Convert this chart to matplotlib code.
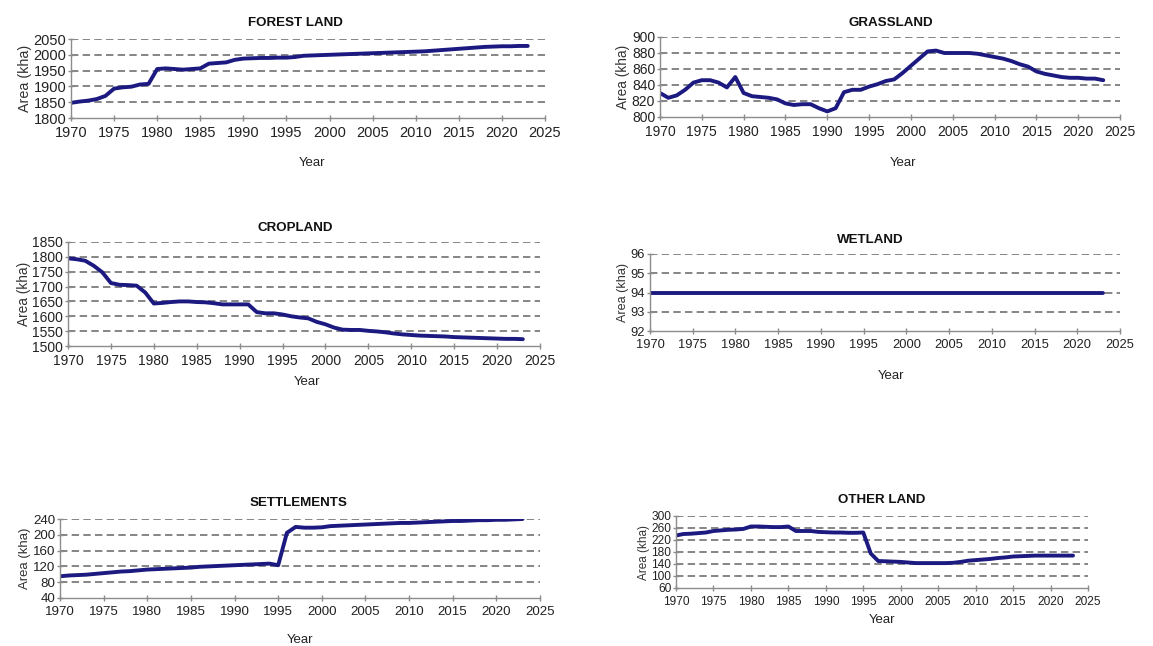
import numpy as np
import matplotlib.pyplot as plt

plt.rcParams['font.family'] = ['Liberation Sans', 'DejaVu Sans']

years = np.arange(1970, 2024)

forest = [1848, 1852, 1855, 1860, 1870, 1893, 1897, 1899, 1906, 1908,
          1955, 1957, 1955, 1953, 1955, 1957, 1972, 1974, 1976, 1984,
          1988, 1989, 1990, 1990, 1991, 1991, 1993, 1997, 1998, 1999,
          2000, 2001, 2002, 2003, 2004, 2005, 2006, 2007, 2008, 2009,
          2010, 2011, 2013, 2015, 2017, 2019, 2021, 2023, 2025, 2026,
          2027, 2027, 2028, 2028]

grassland = [830, 824, 827, 834, 843, 846, 846, 843, 837, 850,
             830, 826, 825, 824, 822, 817, 815, 816, 816, 811,
             807, 811, 831, 834, 834, 838, 841, 845, 847, 855,
             864, 873, 882, 883, 880, 880, 880, 880, 879, 877,
             875, 873, 870, 866, 863, 857, 854, 852, 850, 849,
             849, 848, 848, 846]

cropland = [1795, 1792, 1787, 1770, 1748, 1712, 1706, 1705, 1703, 1680,
            1643, 1645, 1648, 1650, 1650, 1648, 1647, 1644, 1640, 1640,
            1640, 1640, 1614, 1610, 1610, 1606, 1600, 1596, 1593, 1581,
            1573, 1562, 1555, 1554, 1554, 1551, 1549, 1546, 1542, 1539,
            1537, 1535, 1534, 1533, 1532, 1530, 1529, 1528, 1527, 1526,
            1525, 1524, 1524, 1523]

wetland = [94] * 54

settlements = [95, 97, 98, 99, 101, 103, 105, 107, 108, 110,
               112, 113, 114, 115, 116, 117, 119, 120, 121, 122,
               123, 124, 125, 126, 127, 123, 205, 220, 218, 218,
               219, 222, 223, 224, 225, 226, 227, 228, 229, 230,
               230, 231, 232, 233, 234, 235, 235, 236, 237, 237,
               238, 238, 239, 240]

other_land = [235, 240, 241, 243, 245, 250, 252, 254, 255, 257,
              265, 265, 264, 263, 263, 265, 250, 250, 250, 247,
              246, 245, 245, 244, 244, 245, 175, 150, 149, 148,
              147, 145, 143, 143, 143, 143, 143, 144, 147, 151,
              153, 155, 157, 160, 162, 165, 166, 167, 168, 168,
              168, 168, 168, 168]

# title, data, y-ticks, axes box in px (left, top, right, bottom),
# title (x, y) in px, "Year" (x, y) in px, tick font size
panels = [
    ("FOREST LAND", forest, np.arange(1800, 2051, 50), (71, 39, 545, 118),
     (295, 23), (312, 163), 10.5),
    ("GRASSLAND", grassland, np.arange(800, 901, 20), (660, 37, 1120, 117),
     (891, 23), (903, 163), 10),
    ("CROPLAND", cropland, np.arange(1500, 1851, 50), (68, 242, 540, 346),
     (295, 228), (307, 382), 10),
    ("WETLAND", wetland, np.arange(92, 97, 1), (650, 254, 1120, 331),
     (870, 240), (891, 376), 9.3),
    ("SETTLEMENTS", settlements, np.arange(40, 241, 40), (60, 519, 540, 598),
     (298, 503), (300, 640), 9.6),
    ("OTHER LAND", other_land, np.arange(60, 301, 40), (676, 516, 1088, 588),
     (882, 500), (882, 620), 8.6),
]

W, H = 1153, 646
fig = plt.figure(figsize=(W / 100, H / 100), dpi=100)

for title, data, yt, (l, t, r, b), (tx, ty), (yx, yy), fs in panels:
    ax = fig.add_axes([l / W, 1 - b / H, (r - l) / W, (b - t) / H])
    ax.plot(years, data, color="#1c1a80", lw=2.8, solid_capstyle="round")
    ax.set_xlim(1970, 2025)
    ax.set_ylim(yt[0], yt[-1])
    ax.set_xticks(np.arange(1970, 2026, 5))
    ax.set_yticks(yt)
    for y in yt[1:]:
        ax.axhline(y, color="#858585", lw=1.4, ls=(0, (3.8, 2.2)), zorder=0)
    for s in ("top", "right"):
        ax.spines[s].set_visible(False)
    for s in ("left", "bottom"):
        ax.spines[s].set_color("#8c8c8c")
        ax.spines[s].set_linewidth(1.0)
    ax.tick_params(colors="#8c8c8c", labelcolor="#222222", labelsize=fs,
                   length=4, width=1, direction="inout")
    ax.tick_params(axis="x", pad=4)
    ax.tick_params(axis="y", pad=1.5)
    ax.set_ylabel("Area (kha)", fontsize=fs * 0.98, color="#333333", labelpad=1)
    fig.text(tx / W, 1 - ty / H, title, ha="center", va="center",
             fontsize=9.6, fontweight="bold", color="#111111")
    fig.text(yx / W, 1 - yy / H, "Year", ha="center", va="center",
             fontsize=9.5, color="#222222")

fig.savefig("out.png", dpi=100, facecolor="white")
